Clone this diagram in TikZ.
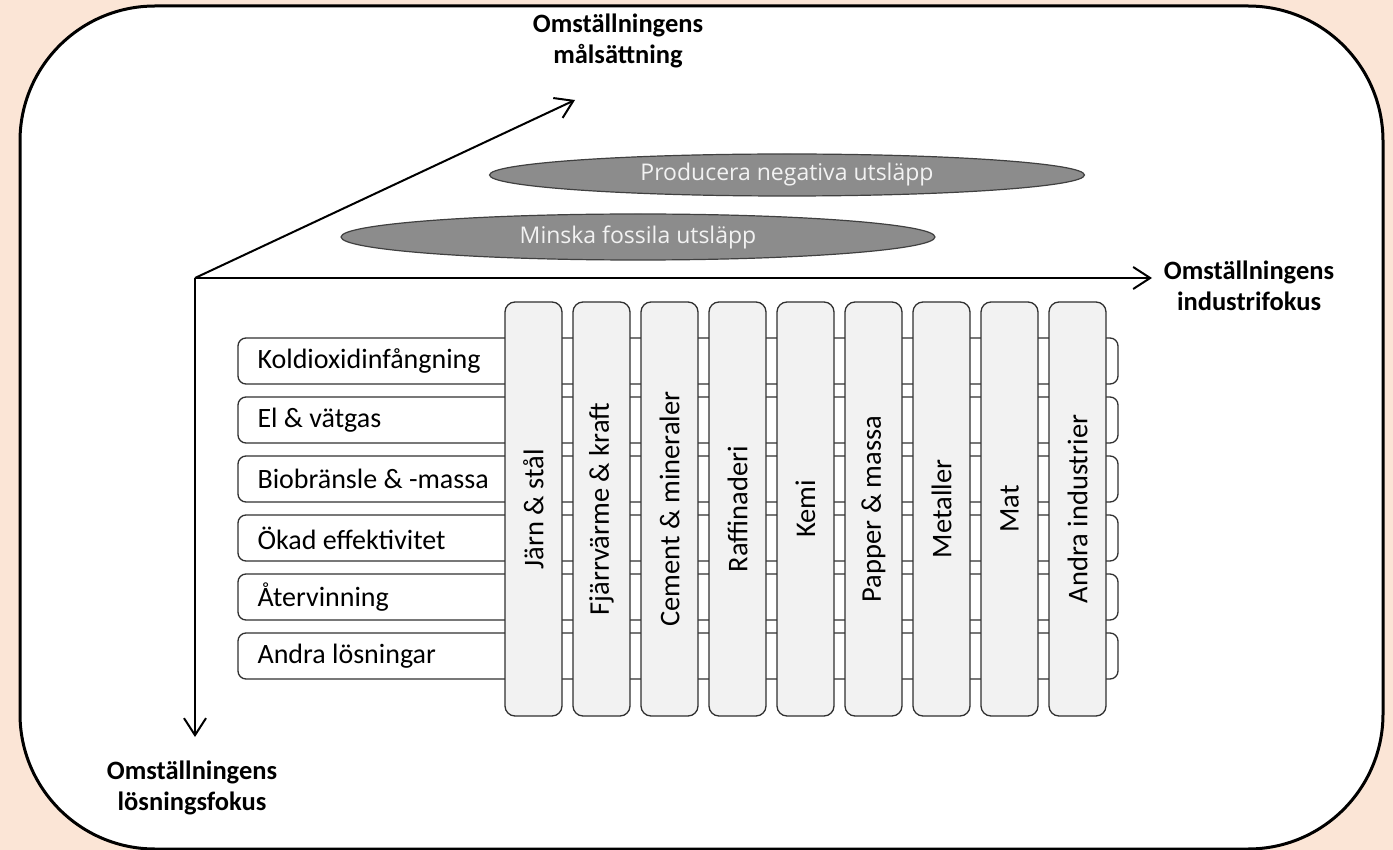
\documentclass[tikz,border=0pt]{standalone}
\usepackage{fontspec}
\setmainfont{Carlito}
\newfontfamily\osans{Open Sans}
\usetikzlibrary{arrows.meta,shapes.geometric}
\definecolor{peach}{HTML}{FBE5D6}
\definecolor{boxline}{HTML}{303030}
\definecolor{colfill}{HTML}{F2F2F2}
\definecolor{ellfill}{HTML}{8C8C8C}
\definecolor{elltext}{HTML}{F2F2F2}
\tikzset{
  axis/.style={line width=2pt, -{Straight Barb[length=17pt,width=22pt,line width=2pt]}},
  axlab/.style={font=\fontsize{26.5}{31}\selectfont\bfseries, align=center, inner sep=0pt},
  ell/.style={ellipse, draw=black!75, line width=1.2pt, fill=ellfill, inner sep=0pt, text=elltext, font=\osans\fontsize{23}{26}\selectfont},
  rowbox/.style={draw=boxline, line width=1.3pt, fill=white, rounded corners=8pt, minimum width=880pt, minimum height=46pt, inner sep=0pt},
  rowtext/.style={anchor=west, inner sep=0pt, font=\fontsize{28}{32}\selectfont},
  colbox/.style={draw=boxline, line width=1.3pt, fill=colfill, rounded corners=10pt, minimum width=57pt, minimum height=414pt, inner sep=0pt},
  coltext/.style={rotate=90, inner sep=0pt, font=\fontsize{28.5}{32}\selectfont}
}
\begin{document}
\begin{tikzpicture}[x=1pt,y=-1pt]
\fill[peach] (0,0) rectangle (1393,850);
\useasboundingbox (0,0) rectangle (1393,850);
\draw[line width=3pt, fill=white, rounded corners=135pt] (20,6) rectangle (1383,849);

% ellipses
\node[ell, minimum width=595pt, minimum height=42pt] (e1) at (787,175) {Producera negativa utsläpp};
\node[ell, minimum width=594pt, minimum height=46pt] (e2) at (638,237) {Minska fossila utsläpp};

% axes
\coordinate (O) at (195,278);
\coordinate (X) at (1152,278);
\coordinate (Y) at (195,737);
\coordinate (Z) at (575,100);
\draw[axis] (O) -- (X);
\draw[axis] (O) -- (Y);
\draw[axis] (O) -- (Z);
\node[axlab] (lx) at (1249,286) {Omställningens\\industrifokus};
\node[axlab] (ly) at (192,788) {Omställningens\\lösningsfokus};
\node[axlab] (lz) at (618,41) {Omställningens\\målsättning};

% rows
\foreach \i/\t in {1/Koldioxidinfångning,2/El \& vätgas,3/Biobränsle \& -massa,4/Ökad effektivitet,5/Återvinning,6/Andra lösningar}{
  \node[rowbox] (r\i) at (678,{361+59*(\i-1)}) {};
  \node[rowtext] (t\i) at ([xshift=20pt]r\i.west) {\t};
}

% columns
\foreach \i/\t in {1/Järn \& stål,2/Fjärrvärme \& kraft,3/Cement \& mineraler,4/Raffinaderi,5/Kemi,6/Papper \& massa,7/Metaller,8/Mat,9/Andra industrier}{
  \node[colbox] (c\i) at ({533.5+68*(\i-1)},509) {};
  \node[coltext] (ct\i) at (c\i) {\t};
}
\end{tikzpicture}
\end{document}
